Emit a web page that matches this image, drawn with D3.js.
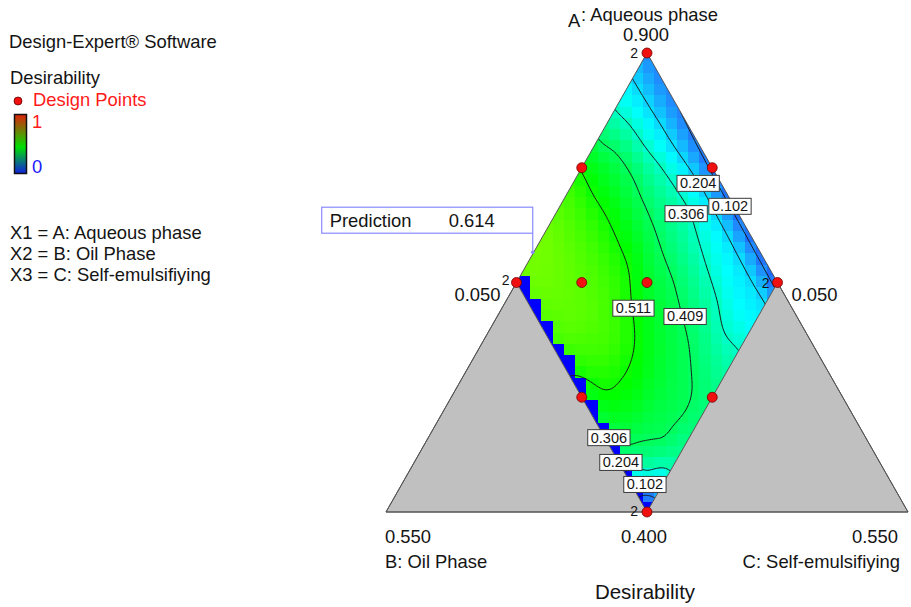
<!DOCTYPE html>
<html>
<head>
<meta charset="utf-8">
<script src="https://cdn.jsdelivr.net/npm/d3@7"></script>
<style>
  html, body { margin: 0; padding: 0; background: #fff; }
  svg text { font-family: "Liberation Sans", Arial, sans-serif; fill: #141414; }
</style>
</head>
<body>
<svg id="chart" width="911" height="607"></svg>
<script>
// ---- Data ----
// Desirability sampled on a grid of the constrained region.
// Columns run over C (Self-emulsifiying), rows over B (Oil Phase); A = 1 - B - C.
const gridC = [0.300, 0.275, 0.250, 0.225, 0.200, 0.175, 0.150, 0.125, 0.100, 0.075, 0.050];
const gridB = [0.300, 0.275, 0.250, 0.225, 0.200, 0.175, 0.150, 0.125, 0.100, 0.075, 0.050];
const desirability = [
  [0.000, 0.170, 0.350, 0.409, 0.440, 0.470, 0.515, 0.555, 0.575, 0.590, 0.600],
  [0.180, 0.330, 0.410, 0.460, 0.500, 0.530, 0.560, 0.585, 0.595, 0.605, 0.614],
  [0.330, 0.400, 0.435, 0.480, 0.516, 0.555, 0.575, 0.590, 0.595, 0.603, 0.611],
  [0.370, 0.415, 0.440, 0.475, 0.510, 0.545, 0.565, 0.575, 0.580, 0.585, 0.590],
  [0.385, 0.416, 0.432, 0.455, 0.480, 0.505, 0.535, 0.545, 0.550, 0.555, 0.560],
  [0.375, 0.395, 0.415, 0.430, 0.445, 0.460, 0.490, 0.500, 0.505, 0.503, 0.505],
  [0.345, 0.355, 0.380, 0.395, 0.410, 0.420, 0.435, 0.445, 0.452, 0.450, 0.430],
  [0.307, 0.300, 0.325, 0.345, 0.360, 0.370, 0.380, 0.385, 0.390, 0.380, 0.350],
  [0.255, 0.250, 0.265, 0.280, 0.300, 0.320, 0.318, 0.310, 0.295, 0.285, 0.270],
  [0.210, 0.207, 0.210, 0.215, 0.220, 0.225, 0.215, 0.204, 0.200, 0.196, 0.195],
  [0.080, 0.083, 0.085, 0.087, 0.088, 0.090, 0.095, 0.100, 0.105, 0.110, 0.115]
];
const contourLevels = [0.102, 0.204, 0.306, 0.409, 0.511];

// contour label anchors (level, B, C)
const labelLevels = [0.102, 0.204, 0.306, 0.409, 0.511, 0.306, 0.204, 0.102];
const labelB      = [0.054, 0.072, 0.100, 0.157, 0.202, 0.296, 0.298, 0.287];
const labelC      = [0.213, 0.170, 0.175, 0.230, 0.176, 0.223, 0.248, 0.283];

// design points (A, B, C, replicates)
const designA    = [0.900, 0.650, 0.650, 0.400, 0.775, 0.775, 0.525, 0.525, 0.650, 0.650];
const designB    = [0.050, 0.300, 0.050, 0.300, 0.175, 0.050, 0.300, 0.175, 0.2375, 0.175];
const designC    = [0.050, 0.050, 0.300, 0.300, 0.050, 0.175, 0.175, 0.300, 0.1125, 0.175];
const designReps = [2, 2, 2, 2, 1, 1, 1, 1, 1, 1];

// feasible region and L-pseudo simplex
const regionA  = [0.90, 0.65, 0.40, 0.65];
const regionB  = [0.05, 0.30, 0.30, 0.05];
const regionC  = [0.05, 0.05, 0.30, 0.30];
const simplexA = [0.90, 0.40, 0.40];
const simplexB = [0.05, 0.55, 0.05];
const simplexC = [0.05, 0.05, 0.55];

// prediction flag
const predictionPoint = [0.683, 0.267, 0.050];
const predictionValue = "0.614";

const legendLines = ["X1 = A: Aqueous phase", "X2 = B: Oil Phase", "X3 = C: Self-emulsifiying"];

// ---- Scales ----
const svg = d3.select("#chart");
const xScale = d3.scaleLinear().domain([-0.5, 0.5]).range([386, 908]); // C - B
const yScale = d3.scaleLinear().domain([0.4, 0.9]).range([512, 53]);   // A
const cIndex = d3.scaleLinear().domain([gridC[0], gridC[gridC.length - 1]]).range([0, gridC.length - 1]);
const bIndex = d3.scaleLinear().domain([gridB[0], gridB[gridB.length - 1]]).range([0, gridB.length - 1]);
const color = d3.scaleLinear()
  .domain([0, 0.1, 0.25, 0.5, 0.75, 1])
  .range(["#0000ff", "#2282ff", "#00ffff", "#00ff00", "#ffff00", "#ff0000"])
  .clamp(true);

const project = (a, b, c) => [xScale(c - b), yScale(a)];
function toComp(x, y) {
  const a = yScale.invert(y), d = xScale.invert(x);
  return { a, b: (1 - a - d) / 2, c: (1 - a + d) / 2 };
}

// bicubic read of the grid (index coordinates)
const nI = gridC.length - 1, nJ = gridB.length - 1;
function cr(p0, p1, p2, p3, t) {
  return p1 + 0.5 * t * (p2 - p0 + t * (2 * p0 - 5 * p1 + 4 * p2 - p3 + t * (3 * (p1 - p2) + p3 - p0)));
}
function sample(ix, iy) {
  const x = Math.max(0, Math.min(nI, ix)), y = Math.max(0, Math.min(nJ, iy));
  const i = Math.min(nI - 1, Math.floor(x)), j = Math.min(nJ - 1, Math.floor(y));
  const g = (ii, jj) => desirability[Math.max(0, Math.min(nJ, jj))][Math.max(0, Math.min(nI, ii))];
  const rows = [-1, 0, 1, 2].map(dj => cr(g(i - 1, j + dj), g(i, j + dj), g(i + 1, j + dj), g(i + 2, j + dj), x - i));
  return Math.max(0, cr(rows[0], rows[1], rows[2], rows[3], y - j));
}

const polyPath = (A, B, C) => "M" + A.map((a, k) => project(a, B[k], C[k]).join(",")).join("L") + "Z";

const defs = svg.append("defs");
defs.append("clipPath").attr("id", "region-clip")
  .append("path").attr("d", polyPath(regionA, regionB, regionC));

// ---- Colour cells ----
const cellSize = 11.3, cellX0 = 383, cellY0 = 50;
const cells = [];
for (let cy = cellY0; cy < 512; cy += cellSize) {
  for (let cx = cellX0; cx < 790; cx += cellSize) {
    const m = toComp(cx + cellSize / 2, cy + cellSize / 2);
    const ix = cIndex(m.c), iy = bIndex(m.b);
    if (ix < -1 || ix > nI + 1 || iy < -1 || iy > nJ + 1) continue;
    const corner = toComp(cx, cy + cellSize);
    const value = bIndex(corner.b) < 0 ? 0 : sample(ix, iy);
    cells.push({ x: cx, y: cy, value });
  }
}
const surface = svg.append("g").attr("clip-path", "url(#region-clip)");
surface.selectAll("rect").data(cells).join("rect")
  .attr("x", d => d.x).attr("y", d => d.y)
  .attr("width", cellSize + 0.6).attr("height", cellSize + 0.6)
  .attr("shape-rendering", "crispEdges")
  .attr("fill", d => color(d.value));

// ---- Contour lines ----
const N = 121, step = (N - 1) / nI;
const values = new Array(N * N);
for (let m = 0; m < N; m++) for (let k = 0; k < N; k++) values[k + m * N] = sample(k / step, m / step);
const contours = d3.contours().size([N, N]).thresholds(contourLevels)(values);

const gridToPixel = p => {
  const ix = (p[0] - 0.5) / step, iy = (p[1] - 0.5) / step;
  const c = cIndex.invert(ix), b = bIndex.invert(iy);
  return project(1 - b - c, b, c);
};
const onEdge = p => p[0] <= 1e-9 || p[0] >= N - 1e-9 || p[1] <= 1e-9 || p[1] >= N - 1e-9;
function openLines(ring) {
  const pts = ring.slice(0, -1), m = pts.length;
  const start = pts.findIndex(onEdge);
  if (start < 0) return [ring];
  const out = [];
  let cur = [pts[start]];
  for (let k = 1; k <= m; k++) {
    const p = pts[(start + k) % m];
    if (onEdge(p)) {
      cur.push(p);
      if (cur.length >= 3) out.push(cur);
      cur = [p];
    } else cur.push(p);
  }
  return out;
}
const isoLines = [];
contours.forEach(ct => ct.coordinates.forEach(poly => poly.forEach(ring => {
  openLines(ring).forEach(l => isoLines.push(l.map(gridToPixel)));
})));
const line = d3.line();
svg.append("g").attr("clip-path", "url(#region-clip)")
  .selectAll("path").data(isoLines).join("path")
  .attr("d", line)
  .attr("fill", "none")
  .attr("stroke", "#1a1a1a")
  .attr("stroke-width", 1);

// ---- Infeasible corners and frame ----
const grey = svg.append("g");
grey.append("path")
  .attr("d", polyPath([0.65, 0.40, 0.40], [0.30, 0.55, 0.30], [0.05, 0.05, 0.30]))
  .attr("fill", "#c0c0c0").attr("stroke", "#555").attr("stroke-width", 1);
grey.append("path")
  .attr("d", polyPath([0.65, 0.40, 0.40], [0.05, 0.30, 0.05], [0.30, 0.30, 0.55]))
  .attr("fill", "#c0c0c0").attr("stroke", "#555").attr("stroke-width", 1);
svg.append("path")
  .attr("d", polyPath(simplexA, simplexB, simplexC))
  .attr("fill", "none").attr("stroke", "#555").attr("stroke-width", 1);

// ---- Contour labels ----
const labels = svg.append("g");
labelLevels.forEach((lvl, k) => {
  const b = labelB[k], c = labelC[k];
  const [px, py] = project(1 - b - c, b, c);
  const g = labels.append("g");
  const rect = g.append("rect");
  const t = g.append("text")
    .attr("x", px).attr("y", py + 5)
    .attr("text-anchor", "middle")
    .style("font-size", "14.5px")
    .text(lvl.toFixed(3));
  const w = t.node().getComputedTextLength() + 6;
  rect.attr("x", px - w / 2).attr("y", py - 8).attr("width", w).attr("height", 16)
    .attr("fill", "#fff").attr("stroke", "#3a3a3a").attr("stroke-width", 1);
});

// ---- Design points ----
const pts = designA.map((a, k) => ({ p: project(a, designB[k], designC[k]), reps: designReps[k] }));
svg.append("g").selectAll("circle").data(pts).join("circle")
  .attr("cx", d => d.p[0]).attr("cy", d => d.p[1]).attr("r", 5)
  .attr("fill", "#f01010").attr("stroke", "#700000").attr("stroke-width", 0.8);
const repOffset = [[-9, 5], [-7, 2], [-8, 5], [-9, 4]];
pts.filter(d => d.reps > 1).forEach((d, k) => {
  svg.append("text")
    .attr("x", d.p[0] + repOffset[k][0]).attr("y", d.p[1] + repOffset[k][1])
    .attr("text-anchor", "end")
    .style("font-size", "14px")
    .text(d.reps);
});

// ---- Prediction flag ----
const [fx, fy] = project(...predictionPoint);
const flag = svg.append("g");
flag.append("rect")
  .attr("x", fx - 212).attr("y", fy - 45).attr("width", 211).attr("height", 26)
  .attr("fill", "#fff").attr("stroke", "#8a8aff").attr("stroke-width", 1.2);
flag.append("line")
  .attr("x1", fx - 1).attr("x2", fx - 1).attr("y1", fy - 19).attr("y2", fy)
  .attr("stroke", "#8a8aff").attr("stroke-width", 1.2);
flag.append("circle").attr("cx", fx - 1).attr("cy", fy).attr("r", 1.8).attr("fill", "#8a8aff");
flag.append("text").attr("x", fx - 204).attr("y", fy - 25).style("font-size", "18.4px").text("Prediction");
flag.append("text").attr("x", fx - 85).attr("y", fy - 25).style("font-size", "18.4px").text(predictionValue);

// ---- Axis texts ----
const txt = (x, y, s, size, anchor, fill) => svg.append("text")
  .attr("x", x).attr("y", y).attr("text-anchor", anchor || "start")
  .style("font-size", size + "px").style("fill", fill || null).text(s);

const apex = project(simplexA[0], simplexB[0], simplexC[0]);
const cornerL = project(simplexA[1], simplexB[1], simplexC[1]);
const cornerR = project(simplexA[2], simplexB[2], simplexC[2]);
const vertL = project(regionA[1], regionB[1], regionC[1]);
const vertR = project(regionA[3], regionB[3], regionC[3]);

const fs = 18.4;
txt(apex[0] - 79, 27, "A", fs);
txt(apex[0] - 66, 21, ": Aqueous phase", fs);
txt(apex[0] - 1, 41, d3.format(".3f")(simplexA[0]), fs, "middle");
txt(vertL[0] - 16, vertL[1] + 18, d3.format(".3f")(regionC[1]), fs, "end");
txt(vertR[0] + 14, vertR[1] + 18, d3.format(".3f")(regionB[3]), fs, "start");
txt(cornerL[0] - 1, 543, d3.format(".3f")(simplexB[1]), fs, "start");
txt(apex[0] - 3, 543, d3.format(".3f")(simplexA[1]), fs, "middle");
txt(cornerR[0] - 10, 543, d3.format(".3f")(simplexC[2]), fs, "end");
txt(cornerL[0] - 1, 568, "B: Oil Phase", fs, "start");
txt(cornerR[0] - 8, 568, "C: Self-emulsifiying", fs, "end");
txt(apex[0] - 2, 599, "Desirability", 20.5, "middle");

// ---- Legend ----
txt(9, 48, "Design-Expert\u00AE Software", fs);
txt(10, 84, "Desirability", fs);
svg.append("circle").attr("cx", 18).attr("cy", 101).attr("r", 4)
  .attr("fill", "#f01010").attr("stroke", "#600").attr("stroke-width", 0.8);
txt(33, 106, "Design Points", fs, "start", "#ff1a1a");

const grad = defs.append("linearGradient")
  .attr("id", "legend-grad").attr("x1", 0).attr("x2", 0).attr("y1", 0).attr("y2", 1);
grad.append("stop").attr("offset", "0%").attr("stop-color", "#e0200a");
grad.append("stop").attr("offset", "55%").attr("stop-color", "#00e000");
grad.append("stop").attr("offset", "100%").attr("stop-color", "#1020e0");
svg.append("rect").attr("x", 14.5).attr("y", 114.5).attr("width", 12).attr("height", 59)
  .attr("fill", "url(#legend-grad)").attr("stroke", "#111").attr("stroke-width", 1.5);
txt(32, 128, "1", fs, "start", "#ff1a1a");
txt(32, 173, "0", fs, "start", "#1a1aff");

legendLines.forEach((s, k) => txt(10, 239 + k * 21, s, fs));
</script>
</body>
</html>
